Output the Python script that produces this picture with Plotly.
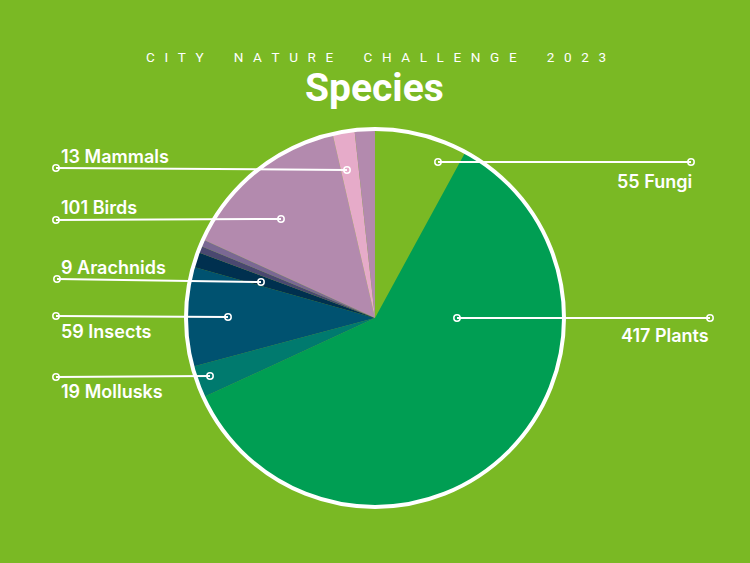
import plotly.graph_objects as go

# ---- data ----
categories = ["Fungi", "Plants", "Mollusks", "Insects", "Arachnids",
              "Reptiles", "Amphibians", "Birds", "Mammals", "Other"]
species_counts = [55, 417, 19, 59, 9, 4, 4, 101, 13, 12]
slice_colors = ["#7ab924", "#009e53", "#007a6e", "#005270", "#00304f",
                "#4a4870", "#7a6893", "#b38aae", "#e6abc9", "#b38aae"]
label_texts = ["55 Fungi", "417 Plants", "19 Mollusks", "59 Insects",
               "9 Arachnids", "101 Birds", "13 Mammals"]

W, H = 750, 563
BG = "#7ab924"


def px(x, y):
    return x / W, 1 - y / H


cx, cy, r = 375, 318, 188
x0, y0 = px(cx - r, cy - r)
x1, y1 = px(cx + r, cy + r)

fig = go.Figure()
fig.add_trace(go.Pie(
    labels=categories, values=species_counts, sort=False,
    direction="clockwise", rotation=0,
    marker=dict(colors=slice_colors, line=dict(width=0)),
    textinfo="none", hoverinfo="skip", showlegend=False,
    domain=dict(x=[x0, x1], y=[y1, y0]),
))

shapes = []
# outer white ring
ra = 189
a0, b0 = px(cx - ra, cy - ra)
a1, b1 = px(cx + ra, cy + ra)
shapes.append(dict(type="circle", xref="paper", yref="paper",
                   x0=a0, y0=b1, x1=a1, y1=b0,
                   line=dict(color="white", width=4), layer="above"))

# leader lines: (left point, right point)
leaders = [
    ((56, 168), (347, 170)),   # Mammals
    ((56, 220), (281, 219)),   # Birds
    ((57, 279), (261, 282)),   # Arachnids
    ((56, 316), (228, 317)),   # Insects
    ((56, 377), (210, 376)),   # Mollusks
    ((438, 162), (691, 162)),  # Fungi
    ((457, 318), (710, 318)),  # Plants
]
for (p, q) in leaders:
    ax, ay = px(*p)
    bx, by = px(*q)
    shapes.append(dict(type="line", xref="paper", yref="paper",
                       x0=ax, y0=ay, x1=bx, y1=by,
                       line=dict(color="white", width=2), layer="above"))
    for (u, v) in (p, q):
        cr = 3.2
        c0x, c0y = px(u - cr, v - cr)
        c1x, c1y = px(u + cr, v + cr)
        shapes.append(dict(type="circle", xref="paper", yref="paper",
                           x0=c0x, y0=c1y, x1=c1x, y1=c0y,
                           fillcolor="rgba(0,0,0,0)",
                           line=dict(color="white", width=1.5),
                           layer="above"))

annotations = []
label_font = dict(family="Inter, Roboto, sans-serif", size=18, color="white", weight=600)
# (text, x, y, anchor)
label_pos = {
    "13 Mammals": (59, 156, "left"),
    "101 Birds": (59, 207, "left"),
    "9 Arachnids": (59, 267, "left"),
    "59 Insects": (59, 331, "left"),
    "19 Mollusks": (59, 391, "left"),
    "55 Fungi": (694, 181, "right"),
    "417 Plants": (711, 335, "right"),
}
for t in label_texts:
    x, y, anc = label_pos[t]
    lx, ly = px(x, y)
    annotations.append(dict(text=t, x=lx, y=ly, xref="paper", yref="paper",
                            xanchor=anc, yanchor="middle", showarrow=False,
                            font=label_font))

subtitle = "CITY NATURE CHALLENGE 2023"
spaced = ""
for ch in subtitle:
    if ch == " ":
        spaced += "\u2003\u2002"
    else:
        spaced += ch + "\u2002\u2009"
spaced = spaced.rstrip("\u2002\u2009")
sx, sy = px(376, 57)
annotations.append(dict(text=spaced, x=sx, y=sy, xref="paper", yref="paper",
                        xanchor="center", yanchor="middle", showarrow=False,
                        font=dict(family="Roboto, sans-serif", size=13.5,
                                  color="white", weight=400)))
tx, ty = px(374, 88)
annotations.append(dict(text="Species", x=tx, y=ty, xref="paper", yref="paper",
                        xanchor="center", yanchor="middle", showarrow=False,
                        font=dict(family="Roboto, sans-serif", size=39,
                                  color="white", weight=700)))

fig.update_layout(
    width=W, height=H, margin=dict(l=0, r=0, t=0, b=0),
    paper_bgcolor=BG, plot_bgcolor=BG,
    shapes=shapes, annotations=annotations, showlegend=False,
)

fig.write_html("out.html")
